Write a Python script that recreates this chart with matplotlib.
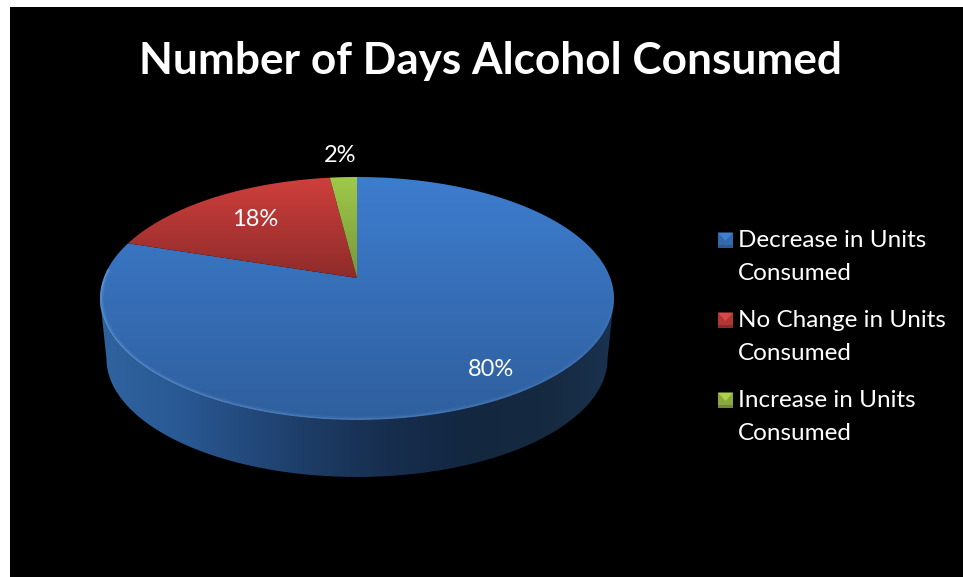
from __future__ import annotations

import matplotlib

matplotlib.use("Agg")
import matplotlib.pyplot as plt
import numpy as np
from matplotlib.collections import LineCollection
from matplotlib.patches import Polygon

TITLE = "Number of Days Alcohol Consumed"
CATEGORIES = ["Decrease in Units\nConsumed", "No Change in Units\nConsumed", "Increase in Units\nConsumed"]
VALUES = [80, 18, 2]
VALUE_LABELS = ["80%", "18%", "2%"]

# top/bottom colours of each slice's shading
SLICE_COLORS = [("#3d7dce", "#2f5f9e"), ("#cf3f3c", "#8e2b2a"), ("#a0c94a", "#76963a")]
LEGEND_COLORS = [
    ("#3f7fd0", "#2b5a94", "#3468ac"),
    ("#d8484a", "#8a2b2a", "#b03634"),
    ("#aed050", "#6e8a34", "#8aa83f"),
]

# perspective of the pie top, in pixels
APEX_X, APEX_Y = 357.0, 278.0
TOP_Y, FRONT_Y = 177.0, 420.0
RADIUS = 253.3
DEPTH = 60.0
LOWER_SCALE = 0.975

persp = (2 * APEX_Y - TOP_Y - FRONT_Y) / (TOP_Y - FRONT_Y)
slope = TOP_Y * (1 + persp) - APEX_Y


def project(theta):
    # theta in radians, clockwise from the back of the pie
    u, v = np.sin(theta), np.cos(theta)
    w = 1 + persp * v
    return APEX_X + RADIUS * u / w, (slope * v + APEX_Y) / w


def lower_edge(x, y):
    mid_y = project(np.arccos(-persp))[1]
    return APEX_X + (x - APEX_X) * LOWER_SCALE, mid_y + (y - mid_y) * LOWER_SCALE + DEPTH


def gradient(ax, colors, extent, vertical=True, clip=None):
    rgb = np.array([matplotlib.colors.to_rgb(c) for c in colors])
    stops = np.linspace(0, 1, len(colors))
    pos = np.linspace(0, 1, 256)
    ramp = np.stack([np.interp(pos, stops, rgb[:, i]) for i in range(3)], axis=-1)
    img = ramp[:, None, :] if vertical else ramp[None, :, :]
    im = ax.imshow(img, extent=extent, aspect="auto", interpolation="bilinear", zorder=2)
    if clip is not None:
        im.set_clip_path(clip)
    return im


fig = plt.figure(figsize=(9.63, 5.77), dpi=100, facecolor="white")
ax = fig.add_axes([0, 0, 1, 1])
ax.axis("off")

# black chart area inside the white margin
ax.add_patch(Polygon([(10, 7), (963, 7), (963, 577), (10, 577)], closed=True, fc="black", ec="none", zorder=1))

plt.rcParams["font.family"] = ["Lato", "DejaVu Sans"]

# side wall of the pie, only the front half is visible
tangent = np.arccos(-persp)
front = np.linspace(tangent, 2 * np.pi - tangent, 300)
fx, fy = project(front)
lx, ly = lower_edge(fx, fy)
wall = Polygon(np.r_[np.c_[fx, fy], np.c_[lx, ly][::-1]], closed=True, fc="none", ec="none", zorder=2)
ax.add_patch(wall)
gradient(
    ax,
    ["#2f639f", "#2a5a96", "#234a7c", "#1c3a62", "#162d4d", "#132740", "#15293f", "#1a324f"],
    (100, 614, 480, 290),
    vertical=False,
    clip=wall,
)

# top face, one gradient per slice, clockwise from the back
edges = np.r_[0, np.cumsum(VALUES)] / np.sum(VALUES) * 2 * np.pi
top_faces = []
for start, stop, (c_top, c_bottom) in zip(edges[:-1], edges[1:], SLICE_COLORS):
    theta = np.linspace(start, stop, 200)
    px, py = project(theta)
    outline = np.r_[[[APEX_X, APEX_Y]], np.c_[px, py]]
    face = Polygon(outline, closed=True, fc="none", ec="none", zorder=3)
    ax.add_patch(face)
    top_faces.append(face)
    low_y = FRONT_Y if stop - start > np.pi else APEX_Y
    im = gradient(ax, [c_top, c_bottom], (100, 614, low_y, TOP_Y), clip=face)
    im.set_zorder(3)

# soft lighter rim along the front edge, brighter on the left where the light falls
rim_theta = np.linspace(tangent - 0.15, 2 * np.pi - tangent + 0.25, 400)
rx, ry = project(rim_theta)
rim_pts = np.c_[rx, ry]
segments = np.stack([rim_pts[:-1], rim_pts[1:]], axis=1)
fade = np.clip((rim_theta[:-1] - tangent) / (2 * np.pi - 2 * tangent), 0, 1)
for width, strength in [(5, 0.18), (2.5, 0.4)]:
    rgba = np.tile(matplotlib.colors.to_rgba("#79ade8"), (len(segments), 1))
    rgba[:, 3] = strength * (0.15 + 0.85 * fade)
    rim = LineCollection(segments, colors=rgba, linewidths=width, zorder=4, capstyle="butt")
    ax.add_collection(rim)
    rim.set_clip_path(top_faces[0])

ax.set_xlim(0, 963)
ax.set_ylim(577, 0)

ax.text(490.5, 61, TITLE, color="white", fontsize=31.8, fontweight="bold", ha="center", va="center")

for label, (x, y) in zip(VALUE_LABELS, [(491, 369), (255, 219), (340, 155)]):
    ax.text(x, y, label, color="white", fontsize=17, ha="center", va="center", zorder=6)

# legend keys are small bevelled squares
for i, (label, (light, dark, mid)) in enumerate(zip(CATEGORIES, LEGEND_COLORS)):
    cy = 240 + i * 80
    x0, x1, y0, y1 = 718, 733, cy - 7.5, cy + 7.5
    cx = (x0 + x1) / 2
    for pts, color in [
        ([(x0, y0), (x0, y1), (x1, y1), (x1, y0)], mid),
        ([(x0, y0), (x1, y0), (cx, cy + 1)], light),
        ([(x0, y1 - 3), (x1, y1 - 3), (x1, y1), (x0, y1)], dark),
    ]:
        ax.add_patch(Polygon(pts, closed=True, fc=color, ec="none", zorder=5))
    ax.text(738, cy + 17, label, color="white", fontsize=17.5, ha="left", va="center", linespacing=1.7, zorder=6)

fig.savefig("out.png", dpi=100, facecolor="white")
